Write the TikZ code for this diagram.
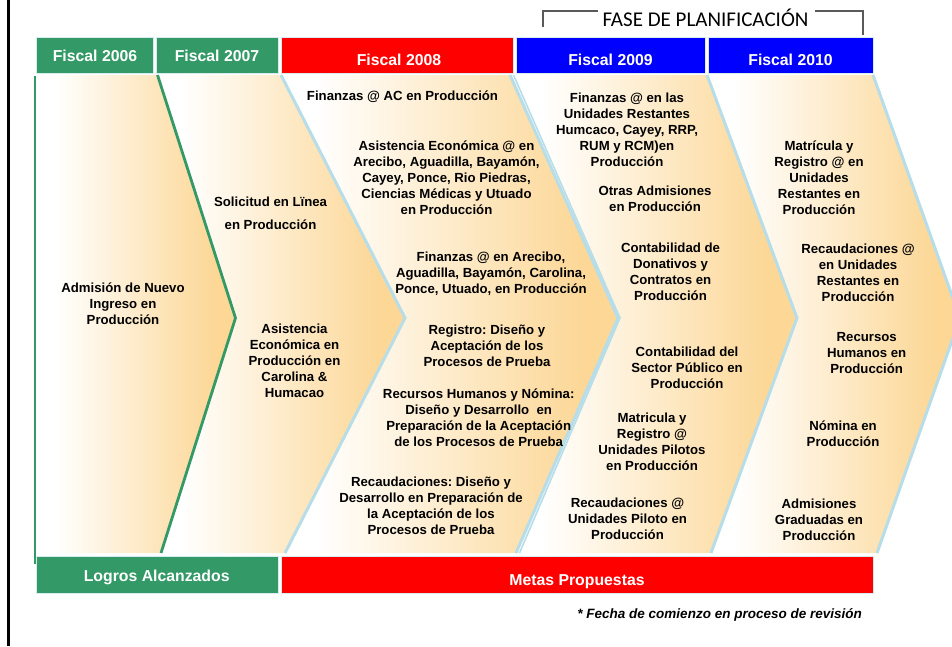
\documentclass[tikz,border=0pt]{standalone}
\usepackage{fontspec}
\setmainfont{Liberation Sans}
\newfontfamily\carlito{Carlito}
\frenchspacing
\definecolor{grn}{RGB}{51,153,102}
\definecolor{lblue}{RGB}{183,221,232}
\definecolor{orng}{RGB}{252,215,150}
\definecolor{hbord}{RGB}{215,236,241}
\definecolor{brk}{RGB}{90,90,90}
\pgfdeclarehorizontalshading{chev}{100bp}{color(0bp)=(white); color(25bp)=(white); color(30bp)=(white); color(70bp)=(orng); color(100bp)=(orng)}
\tikzset{
  hdrbox/.style={draw=hbord, line width=1pt},
  hdrtxt/.style={text=white, font=\fontsize{15.8}{18}\selectfont\bfseries, inner sep=0pt, anchor=base},
  body/.style={font=\fontsize{13.2}{16}\selectfont\bfseries, align=center, inner sep=0pt},
  bedge/.style={draw=lblue, line width=3pt},
  bedgethin/.style={draw=lblue, line width=1.6pt},
  gedge/.style={draw=grn, line width=2.8pt},
  brack/.style={draw=brk, line width=1.2pt},
}
\begin{document}
\begin{tikzpicture}[x=1pt,y=-1pt]
\useasboundingbox (0,0) rectangle (952,646);
\clip (0,0) rectangle (952,646);
% chevron fills
\shade[shading=chev] (35,75) -- (157.5,75) -- (235.5,318) -- (161,553) -- (35,553) -- cycle;
\shade[shading=chev] (157.5,75) -- (281,75) -- (405,318) -- (285,553) -- (161,553) -- (235.5,318) -- cycle;
\shade[shading=chev] (281,75) -- (510,75) -- (618,318) -- (516,553) -- (285,553) -- (405,318) -- cycle;
\shade[shading=chev] (513,75) -- (707,75) -- (797,318) -- (711,553) -- (519,553) -- (619.5,318) -- cycle;
\shade[shading=chev] (709,75) -- (873,75) -- (960,318) -- (877,553) -- (713,553) -- (798.5,318) -- cycle;
% chevron edges
\draw[bedge] (281,75) -- (405,318) -- (285,553);
\draw[bedge] (510,75) -- (618,318) -- (516,553);
\draw[bedgethin] (513.5,75) -- (620,318) -- (519.5,553);
\draw[bedge] (707,75) -- (797,318) -- (711,553);
\draw[bedge] (873,75) -- (960,318) -- (877,553);
\draw[gedge] (157.5,75) -- (235.5,318) -- (161,553);
\draw[gedge] (35,76) -- (35,564);
% left black rule
\draw[line width=2.5pt] (8.7,0) -- (8.7,646);
% header boxes
\path[hdrbox, fill=grn] (36,37.5) rectangle (153,73.3);
\path[hdrbox, fill=grn] (156,37.5) rectangle (278,73.3);
\path[hdrbox, fill=red] (281,37.5) rectangle (513,73.3);
\path[hdrbox, fill=blue] (516.7,37.5) rectangle (705.3,73.3);
\path[hdrbox, fill=blue] (708.5,37.5) rectangle (873,73.3);
\node[hdrtxt] (f2006) at (95,61.7) {Fiscal 2006};
\node[hdrtxt] (f2007) at (217,61.7) {Fiscal 2007};
\node[hdrtxt] (f2008) at (399,65.3) {Fiscal 2008};
\node[hdrtxt] (f2009) at (610.5,65.3) {Fiscal 2009};
\node[hdrtxt] (f2010) at (790.5,65.3) {Fiscal 2010};
% bottom boxes
\path[hdrbox, fill=grn] (36,556.7) rectangle (278,593.3);
\path[hdrbox, fill=red] (281,556.7) rectangle (873,593.3);
\node[hdrtxt] (logros) at (156.7,581) {Logros Alcanzados};
\node[hdrtxt] (metas) at (577,585) {Metas Propuestas};
\node[font=\fontsize{13.5}{16}\selectfont\bfseries\itshape, inner sep=0pt, anchor=base east] (nota) at (862,618.8) {* Fecha de comienzo en proceso de revisión};
% fase bracket
\node[font=\carlito\fontsize{21}{24}\selectfont, inner sep=0pt, anchor=base] (fase) at (705.5,26.7) {FASE DE PLANIFICACIÓN};
\coordinate (bl1) at (543,27);
\coordinate (bl2) at (543,11);
\coordinate (bl3) at (598.3,11);
\coordinate (br1) at (815,11);
\coordinate (br2) at (863,11);
\coordinate (br3) at (863,35);
\draw[brack] (bl1) -- (bl2) -- (bl3);
\draw[brack] (br1) -- (br2) -- (br3);
% body texts
\node[body] (t1) at (123,303.3) {Admisión de Nuevo\\Ingreso en\\Producción};
\node[body] (t2a) at (270.6,201.3) {Solicitud en Lïnea};
\node[body] (t2b) at (270.5,224.5) {en Producción};
\node[body] (t2c) at (294.5,361) {Asistencia\\Económica en\\Producción en\\Carolina \&\\Humacao};
\node[body] (t3a) at (402.5,97) {Finanzas @ AC en Producción};
\node[body] (t3b) at (446.5,177.3) {Asistencia Económica @ en\\Arecibo, Aguadilla, Bayamón,\\Cayey, Ponce, Rio Piedras,\\Ciencias Médicas y Utuado\\en Producción};
\node[body] (t3c) at (491,273.7) {Finanzas @ en Arecibo,\\Aguadilla, Bayamón, Carolina,\\Ponce, Utuado, en Producción};
\node[body] (t3d) at (487,345.5) {Registro: Diseño y\\Aceptación de los\\Procesos de Prueba};
\node[body] (t3e) at (478.7,417.5) {Recursos Humanos y Nómina:\\Diseño y Desarrollo~ en\\Preparación de la Aceptación\\de los Procesos de Prueba};
\node[body] (t3f) at (431,505.7) {Recaudaciones: Diseño y\\Desarrollo en Preparación de\\la Aceptación de los\\Procesos de Prueba};
\node[body] (t4a) at (627,129.3) {Finanzas @ en las\\Unidades Restantes\\Humcaco, Cayey, RRP,\\RUM y RCM)en\\Producción};
\node[body] (t4b) at (655,199) {Otras Admisiones\\en Producción};
\node[body] (t4c) at (670.5,271.5) {Contabilidad de\\Donativos y\\Contratos en\\Producción};
\node[body] (t4d) at (687,367.5) {Contabilidad del\\Sector Público en\\Producción};
\node[body] (t4e) at (652,441.5) {Matricula y\\Registro @\\Unidades Pilotos\\en Producción};
\node[body] (t4f) at (627.5,519) {Recaudaciones @\\Unidades Piloto en\\Producción};
\node[body] (t5a) at (819,177.7) {Matrícula y\\Registro @ en\\Unidades\\Restantes en\\Producción};
\node[body] (t5b) at (858,273) {Recaudaciones @\\en Unidades\\Restantes en\\Producción};
\node[body] (t5c) at (866.7,353) {Recursos\\Humanos en\\Producción};
\node[body] (t5d) at (843,433.5) {Nómina en\\Producción};
\node[body] (t5e) at (819,519.5) {Admisiones\\Graduadas en\\Producción};
\end{tikzpicture}
\end{document}
